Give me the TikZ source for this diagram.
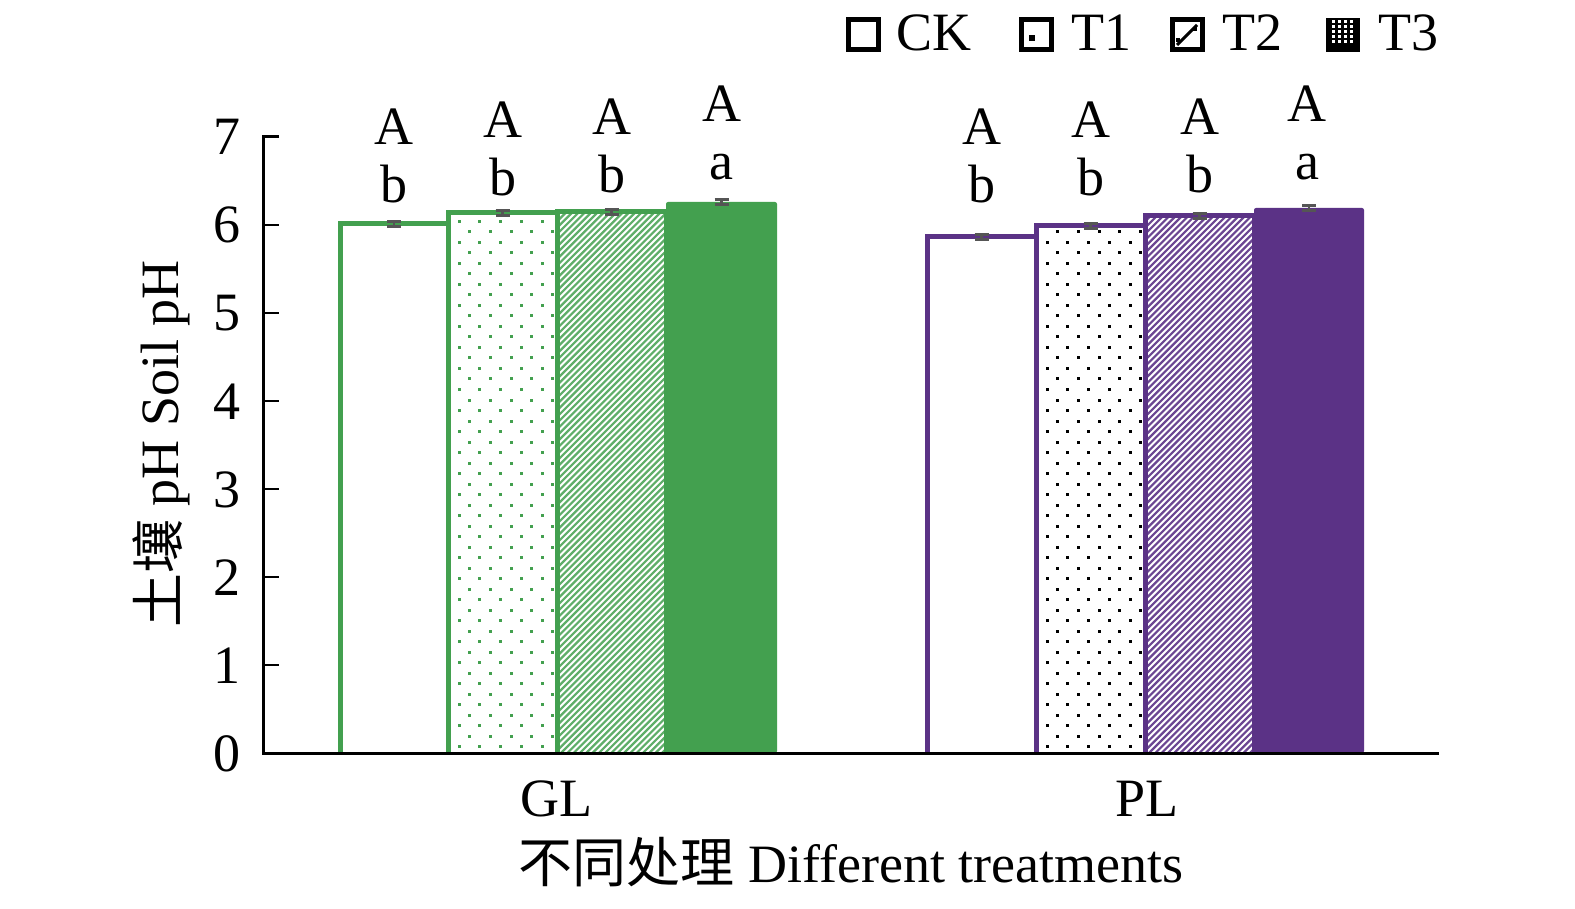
\documentclass[tikz,border=0pt]{standalone}
\usepackage{fontspec}
\setmainfont{Liberation Serif}
\newfontfamily\cjk{Noto Sans CJK SC}
\definecolor{gcol}{HTML}{43A04F}
\definecolor{pcol}{HTML}{5B3286}
\definecolor{ecol}{HTML}{555555}
\newcommand\bigf{\fontsize{54}{60}\selectfont}
\newcommand\barDots[4]{%
  \begin{scope}
    \clip (#1,#3) rectangle (#2,753);
    \foreach \r in {0,...,56}{%
      \pgfmathsetmacro\yy{745-10.5*\r}%
      \pgfmathsetmacro\xo{mod(\r,2)*10.4}%
      \foreach \c in {0,...,5}{%
        \fill[#4] (#1+9.5+\xo+20.8*\c,\yy) rectangle ++(3,3);
      }%
    }%
  \end{scope}}
\newcommand\barHatch[4]{%
  \begin{scope}
    \clip (#1,#3) rectangle (#2,753);
    \foreach \k in {-92,...,20}{%
      \draw[#4, line width=2.2pt] (#1+6.3*\k,757) -- ++(580,-580);
    }%
  \end{scope}}
\newcommand\ebar[2]{%
  \draw[ecol,line width=2.5pt] (#1-7,#2-2.5) -- (#1+7,#2-2.5)
    (#1,#2-2.5) -- (#1,#2+2.5) (#1-7,#2+2.5) -- (#1+7,#2+2.5);}
\begin{document}
\begin{tikzpicture}[x=1pt,y=-1pt,
  every node/.style={inner sep=0pt,font=\bigf},
  lab/.style={anchor=base},
  outl/.style={line width=5pt},
  legbox/.style={draw=black,line width=5pt}]
\useasboundingbox (0,0) rectangle (1575,909);
\fill[white] (0,0) rectangle (1575,909);

% ---------- GL group ----------
\barDots{448}{557}{213}{gcol}
\barHatch{557}{666}{212}{gcol!85}
\fill[gcol,rounded corners=2pt] (666,202) rectangle (777,753);
\draw[gcol,outl] (340,753) -- (340,224) -- (448,224) -- (448,753);
\draw[gcol,outl] (448,753) -- (448,213) -- (557,213) -- (557,753);
\draw[gcol,outl] (557,753) -- (557,212) -- (666,212) -- (666,753);
\ebar{394}{224}
\ebar{502.5}{213}
\ebar{611.5}{212}
\ebar{721.5}{202}

% ---------- PL group ----------
\barDots{1036}{1145}{226}{black}
\barHatch{1145}{1254}{216}{pcol!90}
\fill[pcol,rounded corners=2pt] (1254,208) rectangle (1364,753);
\draw[pcol,outl] (927,753) -- (927,237) -- (1036,237) -- (1036,753);
\draw[pcol,outl] (1036,753) -- (1036,226) -- (1145,226) -- (1145,753);
\draw[pcol,outl] (1145,753) -- (1145,216) -- (1254,216) -- (1254,753);
\ebar{981.5}{237}
\ebar{1090.5}{226}
\ebar{1199.5}{216}
\ebar{1309}{208}

% ---------- axes ----------
\draw[line width=3pt] (279,137) -- (263,137) -- (263,753) -- (1439,753);
\foreach \v in {0,...,6}{\draw[line width=2.5pt] (263,753-88*\v) -- (279,753-88*\v);}
\foreach \v in {0,...,7}{\node[anchor=base east] (t\v) at (241,753-88*\v+18) {\v};}

% ---------- significance letters ----------
\node[lab] (gA1) at (394,145) {A};   \node[lab] (gb1) at (394,203) {b};
\node[lab] (gA2) at (502.5,138) {A}; \node[lab] (gb2) at (502.5,196) {b};
\node[lab] (gA3) at (611.5,135) {A}; \node[lab] (gb3) at (611.5,193) {b};
\node[lab] (gA4) at (721.5,122) {A}; \node[lab] (ga4) at (721.5,180) {a};
\node[lab] (pA1) at (981.5,145) {A};  \node[lab] (pb1) at (981.5,203) {b};
\node[lab] (pA2) at (1090.5,138) {A}; \node[lab] (pb2) at (1090.5,196) {b};
\node[lab] (pA3) at (1199.5,135) {A}; \node[lab] (pb3) at (1199.5,193) {b};
\node[lab] (pA4) at (1307,122) {A};   \node[lab] (pa4) at (1307,180) {a};

% ---------- axis labels ----------
\node[lab] (gl) at (556,816) {GL};
\node[lab] (pl) at (1147,816) {PL};
\node[lab] (xlab) at (851,882) {{\cjk 不同处理} Different treatments};
\node[lab,rotate=90] (ylab) at (178,444) {{\cjk 土壤} pH Soil pH};

% ---------- legend ----------
\draw[legbox] (848,20) rectangle (878,50);
\node[anchor=base west] (lck) at (896,51) {CK};
\draw[legbox] (1021,20) rectangle (1051,50);
\fill[black] (1029,35) rectangle (1035,41);
\node[anchor=base west] (lt1) at (1071,51) {T1};
\draw[legbox] (1172,20) rectangle (1202,50);
\draw[black,line width=3pt] (1177,45) -- (1197,25);
\fill[black] (1176,38) rectangle (1180,42);
\fill[black] (1193,27) rectangle (1197,31);
\node[anchor=base west] (lt2) at (1222,51) {T2};
\fill[black] (1326,18) rectangle (1360,52);
\foreach \i in {0,...,3}{\foreach \j in {0,...,4}{%
  \fill[white] (1332+6*\i,23+5*\j) rectangle ++(3,-2.5);}}
\node[anchor=base west] (lt3) at (1378,51) {T3};
\end{tikzpicture}
\end{document}
